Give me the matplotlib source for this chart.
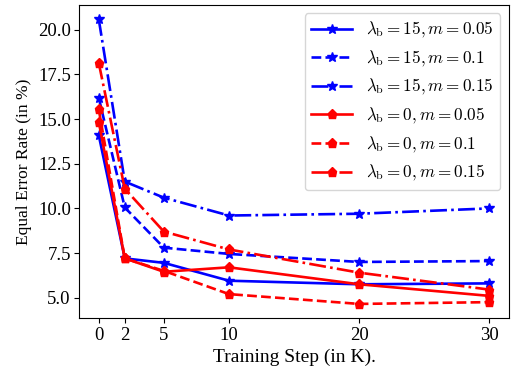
import numpy as np
import matplotlib
matplotlib.use('Agg')
import matplotlib.pyplot as plt

plt.rcParams['font.family'] = ['Liberation Serif', 'DejaVu Serif']
plt.rcParams['mathtext.fontset'] = 'cm'

# training steps (in K)
steps = [0, 2, 5, 10, 20, 30]

# EER (%) for each setting
b15_m005 = [14.1, 7.2, 6.95, 5.95, 5.75, 5.8]
b15_m010 = [16.2, 10.05, 7.8, 7.45, 7.0, 7.05]
b15_m015 = [20.6, 11.5, 10.6, 9.6, 9.7, 10.0]
b0_m005 = [14.85, 7.2, 6.45, 6.7, 5.75, 5.1]
b0_m010 = [15.55, 7.2, 6.5, 5.2, 4.65, 4.75]
b0_m015 = [18.15, 11.1, 8.7, 7.7, 6.4, 5.45]

fig = plt.figure(figsize=(5.11, 3.73), dpi=100)
ax = fig.add_axes([0.155, 0.147, 0.841, 0.840])

lw = 1.9
ax.plot(steps, b15_m005, 'b-', marker='*', ms=7.5, lw=lw, label=r'$\lambda_{\rm b}=15, m=0.05$')
ax.plot(steps, b15_m010, 'b--', marker='*', ms=7.5, lw=lw, label=r'$\lambda_{\rm b}=15, m=0.1$')
ax.plot(steps, b15_m015, 'b-.', marker='*', ms=7.5, lw=lw, label=r'$\lambda_{\rm b}=15, m=0.15$')
ax.plot(steps, b0_m005, 'r-', marker='p', ms=6.5, lw=lw, label=r'$\lambda_{\rm b}=0, m=0.05$')
ax.plot(steps, b0_m010, 'r--', marker='p', ms=6.5, lw=lw, label=r'$\lambda_{\rm b}=0, m=0.1$')
ax.plot(steps, b0_m015, 'r-.', marker='p', ms=6.5, lw=lw, label=r'$\lambda_{\rm b}=0, m=0.15$')

ax.set_xticks(steps)
ax.set_yticks([5.0, 7.5, 10.0, 12.5, 15.0, 17.5, 20.0])
ax.set_xlabel('Training Step (in K).', fontsize=14)
ax.set_ylabel('Equal Error Rate (in %)', fontsize=12.5)
ax.tick_params(labelsize=13.5, pad=2.5)
ax.legend(loc='upper right', fontsize=12.3, handlelength=2.4)

fig.savefig('out.png', dpi=100)
